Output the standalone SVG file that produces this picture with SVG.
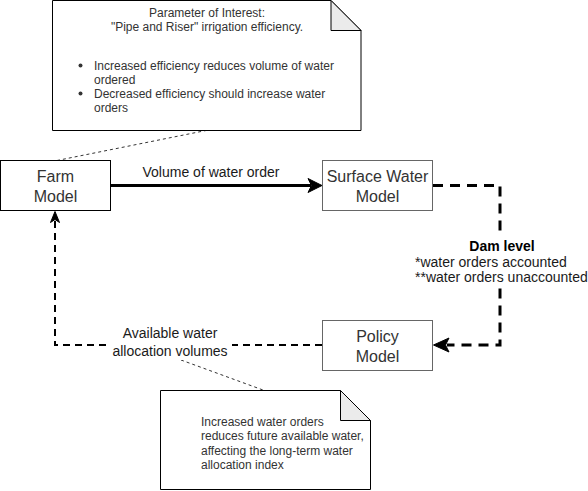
<svg xmlns="http://www.w3.org/2000/svg" width="588" height="491" viewBox="0 0 588 491">
<style>
text{font-family:"Liberation Sans",Arial,sans-serif;fill:#333333}
.node{fill:#ffffff;stroke-width:1}
.nt{font-size:16px;text-anchor:middle}
.el{font-size:14px;fill:#1a1a1a}
.note{fill:#ffffff;stroke:#000000;stroke-width:1}
.fold{fill:#ebebeb;stroke:#000000;stroke-width:1}
.ntext{font-size:12px}
.thin{fill:none;stroke:#333333;stroke-width:1;stroke-dasharray:3 3}
</style>
<rect width="588" height="491" fill="#ffffff"/>
<g id="connectors">
  <path class="thin" d="M57,160.5 L206,130.5"/>
  <path class="thin" d="M181,360 L263,390"/>
  <path d="M110.5,185.5 H311" fill="none" stroke="#000" stroke-width="3"/>
  <path d="M322,185.5 L308,178.5 L311.5,185.5 L308,192.5 Z" fill="#000" stroke="#000" stroke-width="1"/>
  <path d="M433,185.5 H500 V345 H447" fill="none" stroke="#000" stroke-width="3" stroke-dasharray="10 7"/>
  <path d="M433.5,345 L449,338 L445.5,345 L449,352 Z" fill="#000" stroke="#000" stroke-width="1"/>
  <path d="M322,345 H55 V219" fill="none" stroke="#000" stroke-width="2" stroke-dasharray="7 5"/>
  <path d="M55,211.5 L50.5,222.5 L55,219.5 L59.5,222.5 Z" fill="#000" stroke="#000" stroke-width="1"/>
  <rect x="108" y="325" width="124" height="35" fill="#ffffff"/>
  <text class="el" x="170" y="338" text-anchor="middle">Available water</text>
  <text class="el" x="170" y="356" text-anchor="middle">allocation volumes</text>
  <text class="el" x="211" y="177" text-anchor="middle">Volume of water order</text>
  <rect x="414" y="236" width="174" height="48" fill="#ffffff"/>
  <text class="el" x="502" y="251" text-anchor="middle" font-weight="bold" style="fill:#000">Dam level</text>
  <text class="el" x="415" y="267">*water orders accounted</text>
  <text class="el" x="415" y="282">**water orders unaccounted</text>
</g>
<g id="note1">
  <path class="note" d="M52.5,0.5 H331 L361,30.5 V130.5 H52.5 Z"/>
  <path class="fold" d="M331,0.5 V30.5 H361 Z"/>
  <text class="ntext" x="207" y="17" text-anchor="middle">Parameter of Interest:</text>
  <text class="ntext" x="207" y="31" text-anchor="middle">"Pipe and Riser" irrigation efficiency.</text>
  <circle cx="80.5" cy="65.5" r="2" fill="#333"/>
  <text class="ntext" x="94" y="69.5">Increased efficiency reduces volume of water</text>
  <text class="ntext" x="94" y="83.5">ordered</text>
  <circle cx="80.5" cy="93.5" r="2" fill="#333"/>
  <text class="ntext" x="94" y="97.5">Decreased efficiency should increase water</text>
  <text class="ntext" x="94" y="111.5">orders</text>
</g>
<g id="farm">
  <rect class="node" x="0.5" y="160.5" width="110" height="50" stroke="#000000"/>
  <text class="nt" x="55.5" y="181.5">Farm</text>
  <text class="nt" x="55.5" y="201.5">Model</text>
</g>
<g id="surface">
  <rect class="node" x="322.5" y="160.5" width="110" height="50" stroke="#666666"/>
  <text class="nt" x="377.5" y="181.5">Surface Water</text>
  <text class="nt" x="377.5" y="201.5">Model</text>
</g>
<g id="policy">
  <rect class="node" x="322.5" y="320.5" width="110" height="50" stroke="#666666"/>
  <text class="nt" x="377.5" y="341.5">Policy</text>
  <text class="nt" x="377.5" y="361.5">Model</text>
</g>
<g id="note2">
  <path class="note" d="M160.5,390.5 H340.5 L370.5,420.5 V489.5 H160.5 Z"/>
  <path class="fold" d="M340.5,390.5 V420.5 H370.5 Z"/>
  <text class="ntext" x="201" y="425.5">Increased water orders</text>
  <text class="ntext" x="201" y="440">reduces future available water,</text>
  <text class="ntext" x="201" y="454.5">affecting the long-term water</text>
  <text class="ntext" x="201" y="469">allocation index</text>
</g>
</svg>
